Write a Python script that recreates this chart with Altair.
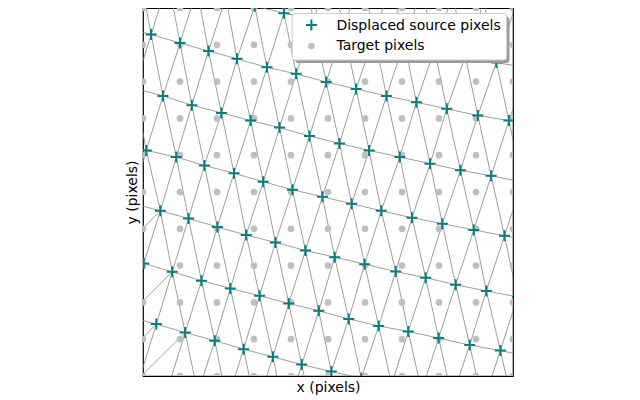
import altair as alt
import pandas as pd

# ---- displaced source pixels, one list per lattice row (first column index, x, y) ----
row_m1_c0 = 4
row_m1_x = [2.68, 3.48, 4.27, 5.08, 5.91, 6.72, 7.54, 8.37, 9.21, 10.06]
row_m1_y = [11.70, 11.51, 11.32, 11.11, 10.92, 10.73, 10.54, 10.35, 10.17, 10.02]

row0_c0 = 0
row0_x = [-0.09, 0.68, 1.46, 2.24, 3.02, 3.81, 4.61, 5.42, 6.25, 7.06, 7.88, 8.71, 9.55, 10.39]
row0_y = [10.94, 10.75, 10.52, 10.29, 10.05, 9.86, 9.67, 9.45, 9.26, 9.07, 8.88, 8.69, 8.52, 8.37]

row1_c0 = -1
row1_x = [-0.55, 0.22, 1.00, 1.77, 2.54, 3.35, 4.14, 4.95, 5.76, 6.58, 7.39, 8.21, 9.05, 9.89, 10.73]
row1_y = [9.50, 9.28, 9.05, 8.83, 8.62, 8.39, 8.21, 7.99, 7.80, 7.61, 7.44, 7.26, 7.08, 6.94, 6.81]

row2_c0 = -1
row2_x = [-0.23, 0.54, 1.32, 2.12, 2.91, 3.69, 4.50, 5.31, 6.11, 6.94, 7.76, 8.58, 9.41, 10.25]
row2_y = [7.82, 7.61, 7.36, 7.15, 6.94, 6.75, 6.52, 6.32, 6.13, 5.95, 5.77, 5.59, 5.44, 5.27]

row3_c0 = -2
row3_x = [-0.69, 0.09, 0.90, 1.66, 2.46, 3.25, 4.04, 4.85, 5.64, 6.44, 7.27, 8.09, 8.94, 9.77, 10.61]
row3_y = [6.33, 6.13, 5.95, 5.72, 5.51, 5.28, 5.06, 4.87, 4.68, 4.49, 4.30, 4.14, 3.97, 3.81, 3.64]

row4_c0 = -2
row4_x = [-0.32, 0.47, 1.23, 2.01, 2.79, 3.58, 4.39, 5.18, 5.99, 6.83, 7.64, 8.45, 9.28, 10.12]
row4_y = [4.70, 4.49, 4.28, 4.05, 3.83, 3.63, 3.41, 3.23, 3.04, 2.84, 2.67, 2.48, 2.31, 2.15]

row5_c0 = -3
row5_x = [-0.75, 0.02, 0.79, 1.58, 2.36, 3.15, 3.94, 4.75, 5.56, 6.37, 7.17, 7.99, 8.83, 9.66, 10.50]
row5_y = [3.26, 3.06, 2.83, 2.59, 2.38, 2.18, 1.97, 1.77, 1.55, 1.36, 1.21, 1.03, 0.84, 0.69, 0.52]

row6_c0 = -3
row6_x = [-0.42, 0.36, 1.14, 1.94, 2.72, 3.51, 4.29, 5.09, 5.90, 6.72, 7.53, 8.35, 9.18, 10.02, 10.85]
row6_y = [1.62, 1.41, 1.18, 0.96, 0.73, 0.52, 0.31, 0.12, -0.06, -0.24, -0.41, -0.59, -0.75, -0.91, -1.08]

row7_c0 = -4
row7_x = [-0.85, -0.08, 0.70, 1.48, 2.27, 3.06, 3.85, 4.63, 5.43, 6.24, 7.06, 7.87, 8.69, 9.52, 10.35]
row7_y = [0.18, -0.03, -0.24, -0.47, -0.70, -0.92, -1.13, -1.35, -1.53, -1.72, -1.89, -2.07, -2.24, -2.40, -2.57]

# lattice cells (row, col) whose Delaunay diagonal runs the other way (lower-left corner)
flipped_cells = [(4, -2), (5, -2), (6, -2), (6, -3)]

# ---- target pixel grid ----
target_cols = [0, 1, 2, 3, 4, 5, 6, 7, 8, 9, 10]
target_rows = [0, 1, 2, 3, 4, 5, 6, 7, 8, 9, 10]

rows = [
    (-1, row_m1_c0, row_m1_x, row_m1_y),
    (0, row0_c0, row0_x, row0_y),
    (1, row1_c0, row1_x, row1_y),
    (2, row2_c0, row2_x, row2_y),
    (3, row3_c0, row3_x, row3_y),
    (4, row4_c0, row4_x, row4_y),
    (5, row5_c0, row5_x, row5_y),
    (6, row6_c0, row6_x, row6_y),
    (7, row7_c0, row7_x, row7_y),
]

pts = {}
for r, c0, xs, ys in rows:
    for k, (xv, yv) in enumerate(zip(xs, ys)):
        pts[(r, c0 + k)] = (xv, yv)

pairs = set()
for (r, c) in pts:
    for nb in [(r, c + 1), (r + 1, c), (r + 1, c - 1)]:
        if nb in pts:
            pairs.add(((r, c), nb))
for (r, c) in flipped_cells:
    pairs.discard(((r, c), (r + 1, c)))
    if (r, c + 1) in pts and (r + 1, c - 1) in pts:
        pairs.add(((r, c + 1), (r + 1, c - 1)))

edges = []
for a, b in sorted(pairs):
    edges.append({"x": pts[a][0], "y": pts[a][1], "x2": pts[b][0], "y2": pts[b][1]})

src_df = pd.DataFrame([{"x": v[0], "y": v[1]} for v in pts.values()])
edge_df = pd.DataFrame(edges)
tgt_df = pd.DataFrame([{"x": cx, "y": ry} for ry in target_rows for cx in target_cols])

PLUS = "M-1,0L1,0M0,-1L0,1"
FONT = "DejaVu Sans"

xscale = alt.Scale(domain=[0, 10], nice=False, zero=False)
yscale = alt.Scale(domain=[0, 10], nice=False, zero=False)
xaxis = alt.Axis(labels=False, ticks=False, domain=False, grid=False, title="x (pixels)",
                 titleFont=FONT, titleFontSize=14, titleFontWeight="normal", titleColor="black",
                 titlePadding=4)
yaxis = alt.Axis(labels=False, ticks=False, domain=False, grid=False, title="y (pixels)",
                 titleFont=FONT, titleFontSize=14, titleFontWeight="normal", titleColor="black",
                 titlePadding=4)

edge_layer = alt.Chart(edge_df).mark_rule(color="#858585", strokeWidth=0.8, clip=True).encode(
    x=alt.X("x:Q", scale=xscale, axis=xaxis),
    y=alt.Y("y:Q", scale=yscale, axis=yaxis),
    x2="x2:Q",
    y2="y2:Q",
)

tgt_layer = alt.Chart(tgt_df).mark_point(shape="circle", filled=True, color="#bfbfbf",
                                         opacity=1, size=45, clip=True).encode(
    x=alt.X("x:Q", scale=xscale), y=alt.Y("y:Q", scale=yscale)
)

src_layer = alt.Chart(src_df).mark_point(shape=PLUS, filled=False, stroke="#008080",
                                         strokeWidth=2, opacity=1, size=121, clip=True).encode(
    x=alt.X("x:Q", scale=xscale), y=alt.Y("y:Q", scale=yscale)
)

one = pd.DataFrame({"a": [0]})
legend_shadow = alt.Chart(one).mark_rect(color="#9a9a9a", cornerRadius=3).encode(
    x=alt.value(152), x2=alt.value(366.5), y=alt.value(8.5), y2=alt.value(55)
)
legend_box = alt.Chart(one).mark_rect(fill="white", stroke="#cccccc", strokeWidth=1,
                                      cornerRadius=3).encode(
    x=alt.value(149.2), x2=alt.value(363.7), y=alt.value(5.5), y2=alt.value(52)
)
legend_plus = alt.Chart(one).mark_point(shape=PLUS, filled=False, stroke="#008080",
                                        strokeWidth=2, opacity=1, size=121).encode(
    x=alt.value(168.4), y=alt.value(17)
)
legend_dot = alt.Chart(one).mark_point(shape="circle", filled=True, color="#bfbfbf",
                                       opacity=1, size=45).encode(
    x=alt.value(168.4), y=alt.value(38)
)
legend_t1 = alt.Chart(one).mark_text(text="Displaced source pixels", font=FONT, fontSize=14,
                                     align="left", baseline="alphabetic", color="black").encode(
    x=alt.value(193.4), y=alt.value(21.5)
)
legend_t2 = alt.Chart(one).mark_text(text="Target pixels", font=FONT, fontSize=14,
                                     align="left", baseline="alphabetic", color="black").encode(
    x=alt.value(193.4), y=alt.value(42)
)

chart = alt.layer(
    edge_layer, tgt_layer, src_layer,
    legend_shadow, legend_box, legend_plus, legend_dot, legend_t1, legend_t2,
).properties(
    width=370, height=368,
    autosize=alt.AutoSizeParams(type="none"),
    padding={"left": 135, "top": 0, "right": 20, "bottom": 30},
).configure_view(stroke="black", strokeWidth=1.2)

chart.save("out.html", embed_options={"renderer": "svg", "actions": False})
